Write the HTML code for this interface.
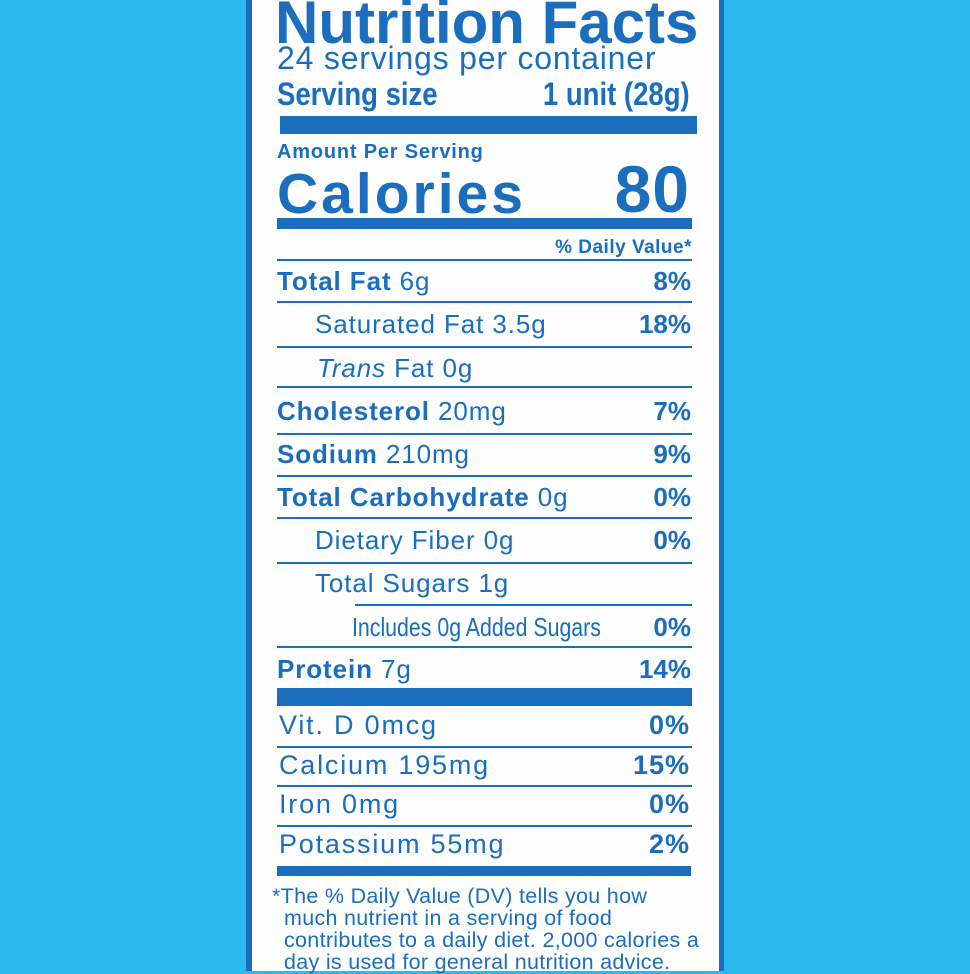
<!DOCTYPE html>
<html><head><meta charset="utf-8"><style>
body{margin:0;width:970px;height:971px;background:#2cb9ee;overflow:hidden;position:relative;font-family:"Liberation Sans",Arial,sans-serif;color:#1b6ebd}
.lab{position:absolute;left:246px;top:0;width:478px;height:971px;background:#fdfdfd;border-left:6px solid #1b6ebd;border-right:5px solid #1b6ebd;box-sizing:border-box}
.t{position:absolute;white-space:nowrap;line-height:1}
.r{text-align:right}
.b{font-weight:bold}
.bar{position:absolute;background:#1b6ebd}
.row{letter-spacing:0.9px}
.low{letter-spacing:1.8px}
</style></head><body>
<div class="lab"></div>
<div class="t b" style="left:275px;top:-7px;font-size:60px;letter-spacing:0px">Nutrition Facts</div>
<div class="t" style="left:277px;top:42px;font-size:32px;letter-spacing:0.8px">24 servings per container</div>
<div class="t b" style="left:277px;top:78px;font-size:32px;transform:scaleX(0.86);transform-origin:left">Serving size</div>
<div class="t b" style="right:280px;top:78px;font-size:32px;transform:scaleX(0.86);transform-origin:right">1 unit (28g)</div>
<div class="bar" style="left:280px;top:116px;width:417px;height:18px"></div>
<div class="t b" style="left:277px;top:142px;font-size:20px;letter-spacing:0.8px">Amount Per Serving</div>
<div class="t b" style="left:277px;top:166px;font-size:57px;letter-spacing:3px">Calories</div>
<div class="t b" style="right:280px;top:156px;font-size:66px;letter-spacing:1px">80</div>
<div class="bar" style="left:277px;top:218px;width:415px;height:11px"></div>
<div class="t b r" style="right:278px;top:238px;font-size:19px;letter-spacing:0.5px">% Daily Value*</div>
<div class="bar" style="left:277px;top:259px;width:415px;height:2px"></div>

<div class="t row" style="left:277px;top:268px;font-size:26px"><b>Total Fat</b> 6g</div><div class="t b" style="right:279px;top:268px;font-size:26px">8%</div>
<div class="bar" style="left:277px;top:301px;width:415px;height:2px"></div>
<div class="t row" style="left:315px;top:311px;font-size:26px">Saturated Fat 3.5g</div><div class="t b" style="right:279px;top:311px;font-size:26px">18%</div>
<div class="bar" style="left:277px;top:346px;width:415px;height:2px"></div>
<div class="t row" style="left:317px;top:355px;font-size:26px"><i>Trans</i> Fat 0g</div>
<div class="bar" style="left:277px;top:386px;width:415px;height:2px"></div>
<div class="t row" style="left:277px;top:398px;font-size:26px"><b>Cholesterol</b> 20mg</div><div class="t b" style="right:279px;top:398px;font-size:26px">7%</div>
<div class="bar" style="left:277px;top:433px;width:415px;height:2px"></div>
<div class="t row" style="left:277px;top:441px;font-size:26px"><b>Sodium</b> 210mg</div><div class="t b" style="right:279px;top:441px;font-size:26px">9%</div>
<div class="bar" style="left:277px;top:475px;width:415px;height:2px"></div>
<div class="t row" style="left:277px;top:484px;font-size:26px"><b>Total Carbohydrate</b> 0g</div><div class="t b" style="right:279px;top:484px;font-size:26px">0%</div>
<div class="bar" style="left:277px;top:517px;width:415px;height:2px"></div>
<div class="t row" style="left:315px;top:527px;font-size:26px">Dietary Fiber 0g</div><div class="t b" style="right:279px;top:527px;font-size:26px">0%</div>
<div class="bar" style="left:277px;top:562px;width:415px;height:2px"></div>
<div class="t row" style="left:315px;top:570px;font-size:26px">Total Sugars 1g</div>
<div class="bar" style="left:355px;top:604px;width:337px;height:2px"></div>
<div class="t" style="left:352px;top:614px;font-size:26px;transform:scaleX(0.82);transform-origin:left">Includes 0g Added Sugars</div><div class="t b" style="right:279px;top:614px;font-size:26px">0%</div>
<div class="bar" style="left:277px;top:646px;width:415px;height:2px"></div>
<div class="t row" style="left:277px;top:656px;font-size:26px"><b>Protein</b> 7g</div><div class="t b" style="right:279px;top:656px;font-size:26px">14%</div>
<div class="bar" style="left:277px;top:688px;width:415px;height:18px"></div>

<div class="t low" style="left:279px;top:712px;font-size:27px">Vit. D 0mcg</div><div class="t b" style="right:280px;top:712px;font-size:27px;letter-spacing:1px">0%</div>
<div class="bar" style="left:277px;top:746px;width:415px;height:2px"></div>
<div class="t low" style="left:279px;top:752px;font-size:27px">Calcium 195mg</div><div class="t b" style="right:280px;top:752px;font-size:27px;letter-spacing:1px">15%</div>
<div class="bar" style="left:277px;top:785px;width:415px;height:2px"></div>
<div class="t low" style="left:279px;top:791px;font-size:27px">Iron 0mg</div><div class="t b" style="right:280px;top:791px;font-size:27px;letter-spacing:1px">0%</div>
<div class="bar" style="left:277px;top:825px;width:415px;height:2px"></div>
<div class="t low" style="left:279px;top:831px;font-size:27px">Potassium 55mg</div><div class="t b" style="right:280px;top:831px;font-size:27px;letter-spacing:1px">2%</div>
<div class="bar" style="left:277px;top:866px;width:414px;height:10px"></div>

<div class="t" style="left:272px;top:886px;font-size:21.5px;letter-spacing:0.3px">*The % Daily Value (DV) tells you how</div>
<div class="t" style="left:284px;top:908px;font-size:21.5px;letter-spacing:0.3px">much nutrient in a serving of food</div>
<div class="t" style="left:284px;top:930px;font-size:21.5px;letter-spacing:0.3px">contributes to a daily diet. 2,000 calories a</div>
<div class="t" style="left:284px;top:952px;font-size:21.5px;letter-spacing:0.3px">day is used for general nutrition advice.</div>
</body></html>
